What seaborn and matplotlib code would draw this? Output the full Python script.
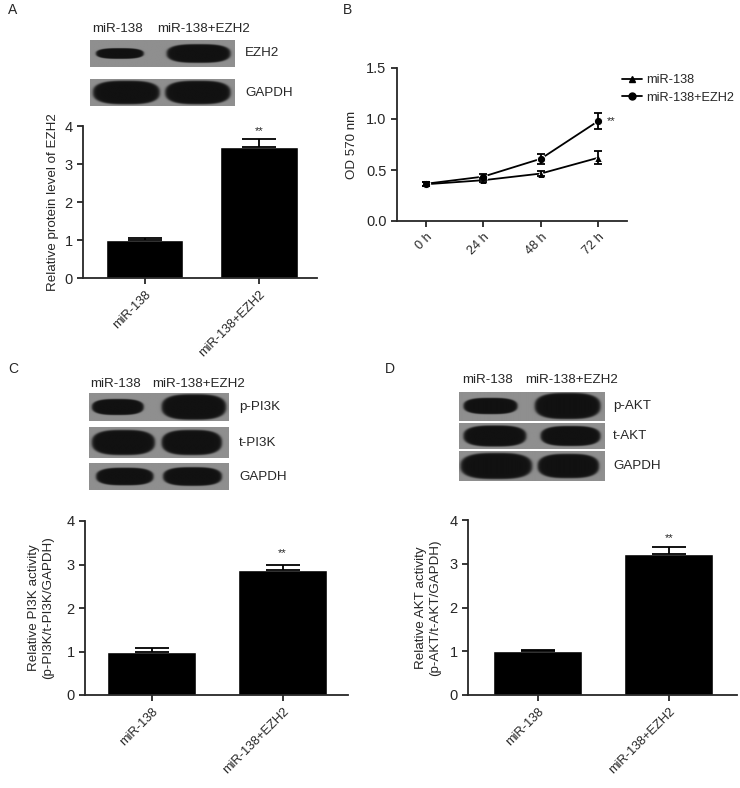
import numpy as np
import pandas as pd
import matplotlib
matplotlib.use("Agg")
import matplotlib.pyplot as plt
import seaborn as sns
from matplotlib.lines import Line2D

groups = ["miR-138", "miR-138+EZH2"]

# panel A
ezh2_mean = [1.0, 3.45]
ezh2_err = [0.05, 0.20]
# panel B
times = ["0 h", "24 h", "48 h", "72 h"]
od_mir = [0.36, 0.40, 0.465, 0.62]
od_mir_err = [0.02, 0.02, 0.025, 0.065]
od_ezh2 = [0.365, 0.435, 0.61, 0.98]
od_ezh2_err = [0.02, 0.03, 0.05, 0.075]
# panel C
pi3k_mean = [1.0, 2.87]
pi3k_err = [0.07, 0.12]
# panel D
akt_mean = [1.0, 3.22]
akt_err = [0.04, 0.16]

# blot bands: (x start, x end, thickness) in strip units
blot_a = {"EZH2": [(0.04, 0.37, 0.40), (0.53, 0.97, 0.70)],
          "GAPDH": [(0.02, 0.48, 0.88), (0.52, 0.97, 0.88)]}
blot_c = {"p-PI3K": [(0.02, 0.39, 0.58), (0.52, 0.98, 0.92)],
          "t-PI3K": [(0.02, 0.47, 0.82), (0.52, 0.95, 0.82)],
          "GAPDH": [(0.05, 0.46, 0.66), (0.53, 0.95, 0.70)]}
blot_d = {"p-AKT": [(0.03, 0.40, 0.55), (0.52, 0.97, 0.88)],
          "t-AKT": [(0.03, 0.46, 0.82), (0.56, 0.97, 0.78)],
          "GAPDH": [(0.01, 0.50, 0.88), (0.54, 0.96, 0.82)]}

sns.set_style("ticks")
plt.rcParams["font.family"] = ["Liberation Sans", "DejaVu Sans"]
plt.rcParams["axes.linewidth"] = 1.3
plt.rcParams["xtick.major.width"] = 1.3
plt.rcParams["ytick.major.width"] = 1.3
plt.rcParams["xtick.major.size"] = 4
plt.rcParams["ytick.major.size"] = 4

FS = 9.6
W, H = 740, 788
fig = plt.figure(figsize=(W / 100, H / 100), dpi=100)


def px_axes(left, top, right, bottom):
    return fig.add_axes([left / W, 1 - bottom / H, (right - left) / W, (bottom - top) / H])


def draw_strip(left, top, right, bottom, bands, label, lx):
    ax = px_axes(left, top, right, bottom)
    nx, ny = 300, 60
    xx, yy = np.meshgrid(np.linspace(0, 1, nx), np.linspace(0, 1, ny))
    dark = np.zeros_like(xx)
    for x0, x1, th in bands:
        cx, rx = (x0 + x1) / 2, (x1 - x0) / 2
        ry = th / 2
        d = np.abs((xx - cx) / rx) ** 3 + np.abs((yy - 0.5) / ry) ** 2.5
        dark = np.maximum(dark, 1 / (1 + np.exp((d - 1) * 12)))
    img = 0.56 - 0.49 * dark
    ax.imshow(img, cmap="gray", vmin=0, vmax=1, aspect="auto", extent=(0, 1, 0, 1))
    ax.set_axis_off()
    fig.text(lx / W, 1 - (top + bottom) / 2 / H, label, fontsize=FS, va="center")


def draw_blot(spec, positions, lx, header_y, header_x):
    for (name, bands), (t, b) in zip(spec.items(), positions[1]):
        draw_strip(positions[0][0], t, positions[0][1], b, bands, name, lx)
    fig.text(header_x[0] / W, 1 - header_y / H, groups[0], fontsize=FS, va="center")
    fig.text(header_x[1] / W, 1 - header_y / H, groups[1], fontsize=FS, va="center")


def rotate_labels(ax):
    for lab in ax.get_xticklabels():
        lab.set_rotation(45)
        lab.set_ha("right")
        lab.set_rotation_mode("anchor")


def bar_panel(ax, means, errs, ylabel, star_y, xlim, pad):
    df = pd.DataFrame({"group": groups, "value": means})
    sns.barplot(data=df, x="group", y="value", color="black", width=0.68,
                saturation=1, ax=ax, errorbar=None)
    ax.errorbar(range(len(means)), means, yerr=[[0] * len(errs), errs], fmt="none",
                ecolor="black", elinewidth=1.3, capsize=12, capthick=1.3)
    ax.text(1, star_y, "**", ha="center", va="center", fontsize=8)
    ax.set_ylim(0, 4)
    ax.set_yticks([0, 1, 2, 3, 4])
    ax.set_xlim(*xlim)
    ax.set_xlabel("")
    ax.set_ylabel(ylabel, fontsize=FS, labelpad=pad)
    ax.tick_params(axis="y", labelsize=10.5)
    ax.tick_params(axis="x", labelsize=9.2)
    rotate_labels(ax)
    sns.despine(ax=ax)


# ---- panel A
draw_blot(blot_a, ((90, 235), [(40, 67), (79, 106)]), 245, 29, (92, 157))
axA = px_axes(83, 126, 317, 278)
bar_panel(axA, ezh2_mean, ezh2_err, "Relative protein level of EZH2", 3.87, (-0.54, 1.51), 4)

# ---- panel B
axB = px_axes(397, 68, 627, 221)
df_b = pd.DataFrame({"time": list(range(4)) * 2,
                     "od": od_mir + od_ezh2,
                     "group": [groups[0]] * 4 + [groups[1]] * 4})
sns.lineplot(data=df_b, x="time", y="od", hue="group", style="group",
             markers=["^", "o"], dashes=False, palette=["black", "black"],
             markersize=6, linewidth=1.3, ax=axB, legend=False)
axB.errorbar(range(4), od_mir, yerr=od_mir_err, fmt="none", ecolor="black",
             elinewidth=1.3, capsize=3, capthick=1.3)
axB.errorbar(range(4), od_ezh2, yerr=od_ezh2_err, fmt="none", ecolor="black",
             elinewidth=1.3, capsize=3, capthick=1.3)
axB.text(3.15, od_ezh2[3], "**", va="center", fontsize=8)
axB.set_xlim(-0.5, 3.5)
axB.set_ylim(0, 1.5)
axB.set_yticks([0, 0.5, 1.0, 1.5])
axB.set_yticklabels(["0.0", "0.5", "1.0", "1.5"])
axB.set_xticks(range(4))
axB.set_xticklabels(times)
axB.set_xlabel("")
axB.set_ylabel("OD 570 nm", fontsize=FS, labelpad=6)
axB.tick_params(axis="y", labelsize=10.5)
axB.tick_params(axis="x", labelsize=9.2)
rotate_labels(axB)
sns.despine(ax=axB)
handles = [Line2D([], [], color="black", marker="^", markersize=5, lw=1.3),
           Line2D([], [], color="black", marker="o", markersize=5, lw=1.3)]
axB.legend(handles, groups, loc="upper left", bbox_to_anchor=(622 / W, 1 - 74 / H),
           bbox_transform=fig.transFigure, frameon=False, fontsize=9.2,
           handlelength=1.6, handletextpad=0.3, labelspacing=0.45,
           borderpad=0, borderaxespad=0)

# ---- panel C
draw_blot(blot_c, ((89, 229), [(393, 421), (427, 458), (463, 490)]), 239, 384, (90, 152))
axC = px_axes(85, 521, 348, 695)
bar_panel(axC, pi3k_mean, pi3k_err, "Relative PI3K activity\n(p-PI3K/t-PI3K/GAPDH)",
          3.26, (-0.51, 1.5), 9)

# ---- panel D
draw_blot(blot_d, ((459, 605), [(392, 421), (423, 449), (451, 481)]), 613, 380, (462, 525))
axD = px_axes(468, 520, 737, 695)
bar_panel(axD, akt_mean, akt_err, "Relative AKT activity\n(p-AKT/t-AKT/GAPDH)",
          3.59, (-0.53, 1.52), 6)

# panel letters
for letter, x, y in [("A", 8, 10), ("B", 343, 10), ("C", 8, 369), ("D", 385, 369)]:
    fig.text(x / W, 1 - y / H, letter, fontsize=10, va="center")

fig.savefig("out.png", dpi=100)
